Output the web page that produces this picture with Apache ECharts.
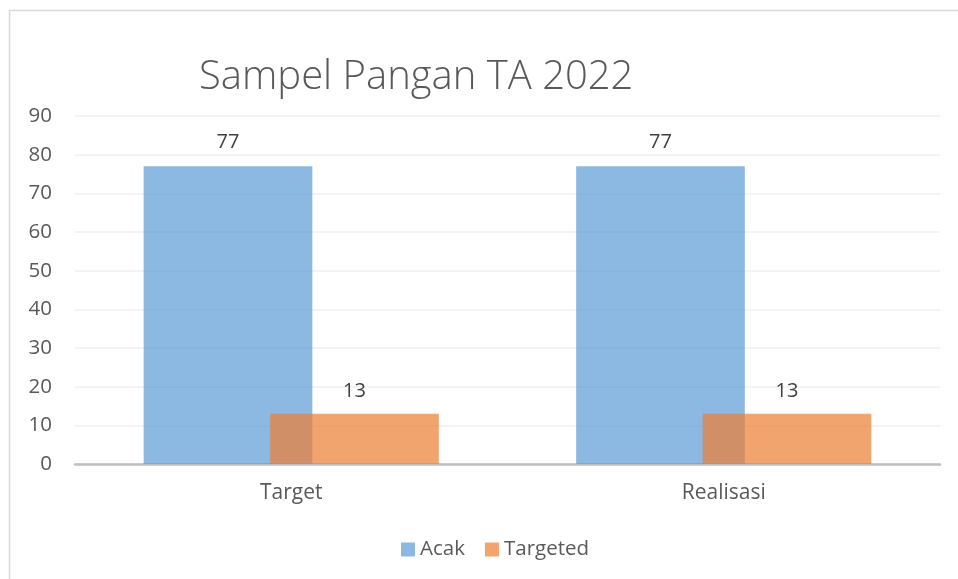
<!DOCTYPE html>
<html><head><meta charset="utf-8">
<script src="https://cdn.jsdelivr.net/npm/echarts@6/dist/echarts.min.js"></script>
<style>html,body{margin:0;padding:0;background:#fff}#c{width:958px;height:579px}</style>
</head><body><div id="c"></div>
<script>
var categories = ['Target', 'Realisasi'];
var acak = [77, 77];
var targeted = [13, 13];
var seriesNames = ['Acak', 'Targeted'];

var chart = echarts.init(document.getElementById('c'));
var font = '"Open Sans", sans-serif';
chart.setOption({
  animation: false,
  graphic: [{type: 'rect', shape: {x: 9.5, y: 10.5, width: 1000, height: 1000}, style: {fill: 'none', stroke: '#D9D9D9', lineWidth: 1.5}, silent: true}],
  title: {text: 'Sampel Pangan TA 2022', left: 194, top: 53,
    textStyle: {fontFamily: font, fontWeight: 300, fontSize: 40, color: '#595959'}},
  legend: {bottom: 14, left: 396, itemWidth: 14, itemHeight: 14, itemGap: 20,
    icon: 'rect', textStyle: {fontFamily: font, fontSize: 20.5, color: '#595959'}},
  grid: {left: 75, right: 18, top: 116, bottom: 115, containLabel: false},
  xAxis: {type: 'category', data: categories,
    axisLine: {lineStyle: {color: '#BFBFBF', width: 2.5}},
    axisTick: {show: false},
    axisLabel: {fontFamily: font, fontSize: 21, color: '#595959', margin: 19}},
  yAxis: {type: 'value', min: 0, max: 90, interval: 10,
    axisLine: {show: false}, axisTick: {show: false},
    splitLine: {lineStyle: {color: '#EFEFEF', width: 1.5}},
    axisLabel: {fontFamily: font, fontSize: 20.5, color: '#595959', margin: 23}},
  series: [
    {name: seriesNames[0], type: 'bar', data: acak, barWidth: '39%', barGap: '-25%',
      itemStyle: {color: 'rgba(91,155,213,0.7)'},
      label: {show: true, position: 'top', distance: 14, fontFamily: font, fontSize: 20, color: '#404040'}},
    {name: seriesNames[1], type: 'bar', data: targeted, barWidth: '39%', barGap: '-25%',
      itemStyle: {color: 'rgba(237,125,49,0.7)'},
      label: {show: true, position: 'top', distance: 12, fontFamily: font, fontSize: 20, color: '#404040'}}
  ]
});
</script></body></html>
